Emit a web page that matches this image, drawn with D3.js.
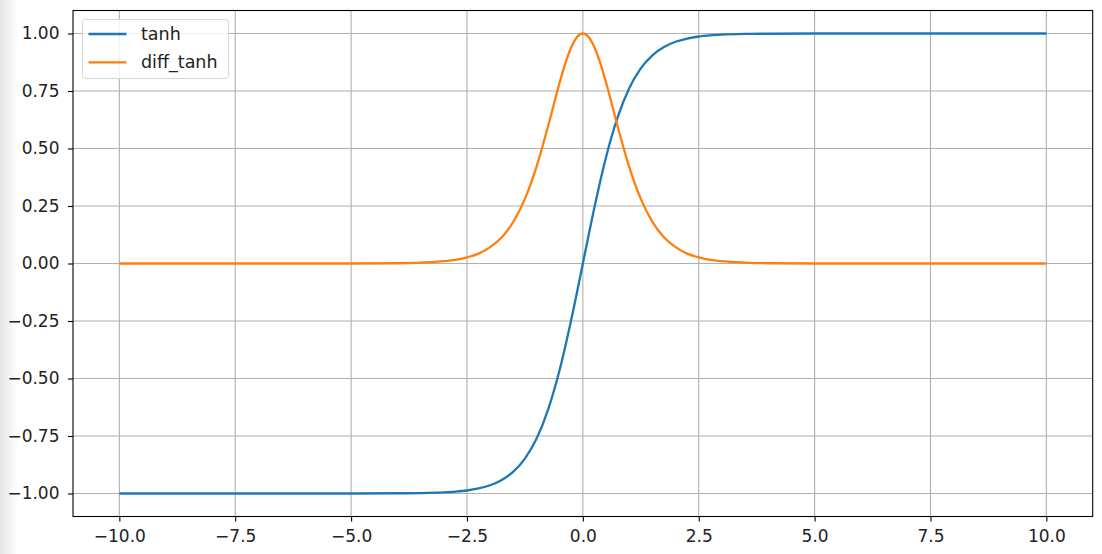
<!DOCTYPE html>
<html lang="en">
<head>
  <meta charset="UTF-8">
  <title>tanh</title>
  <script src="https://d3js.org/d3.v7.min.js"></script>
  <style>
    body { margin: 0; background: #fff; }
    svg { display: block; font-family: "DejaVu Sans", sans-serif; }
  </style>
</head>
<body>
  <svg id="chart"></svg>

  <script>
    // values
    const xs = [-10, -8, -6, -5, -4, -3.5, -3, -2.75, -2.5, -2.25, -2, -1.75, -1.5, -1.25, -1, -0.75, -0.5, -0.375, -0.25, -0.125, 0,
                0.125, 0.25, 0.375, 0.5, 0.75, 1, 1.25, 1.5, 1.75, 2, 2.25, 2.5, 2.75, 3, 3.5, 4, 5, 6, 8, 10];
    const tanhVals = [-1, -1, -1, -1, -0.999, -0.998, -0.995, -0.992, -0.987, -0.978, -0.964, -0.941, -0.905, -0.848, -0.762, -0.635, -0.462, -0.358, -0.245, -0.124, 0,
                      0.124, 0.245, 0.358, 0.462, 0.635, 0.762, 0.848, 0.905, 0.941, 0.964, 0.978, 0.987, 0.992, 0.995, 0.998, 0.999, 1, 1, 1, 1];
    const diffVals = [0, 0, 0, 0, 0.001, 0.004, 0.010, 0.016, 0.027, 0.043, 0.071, 0.114, 0.181, 0.281, 0.420, 0.597, 0.787, 0.872, 0.940, 0.985, 1,
                      0.985, 0.940, 0.872, 0.787, 0.597, 0.420, 0.281, 0.181, 0.114, 0.071, 0.043, 0.027, 0.016, 0.010, 0.004, 0.001, 0, 0, 0, 0];
    const xTicks = [-10, -7.5, -5, -2.5, 0, 2.5, 5, 7.5, 10];
    const yTicks = [-1, -0.75, -0.5, -0.25, 0, 0.25, 0.5, 0.75, 1];
    const seriesNames = ["tanh", "diff_tanh"];
    const colors = ["#1f77b4", "#ff7f0e"];

    const width = 1102, height = 554;
    const plotLeft = 73, plotRight = 1092.7, plotTop = 10.5, plotBottom = 516.5;

    const svg = d3.select("#chart").attr("width", width).attr("height", height);

    // faint shadow at the left edge of the screenshot
    const grad = svg.append("defs").append("linearGradient").attr("id", "shade");
    grad.append("stop").attr("offset", "0").attr("stop-color", "#e4e4e4");
    grad.append("stop").attr("offset", "1").attr("stop-color", "#ffffff");
    svg.append("rect").attr("width", 18).attr("height", height).attr("fill", "url(#shade)");

    const x = d3.scaleLinear().domain([-11, 11]).range([plotLeft, plotRight]);
    const y = d3.scaleLinear().domain([-1.1, 1.1]).range([plotBottom, plotTop]);

    // grid
    svg.append("g").selectAll("line").data(xTicks).join("line")
      .attr("x1", d => x(d)).attr("x2", d => x(d))
      .attr("y1", plotTop).attr("y2", plotBottom)
      .attr("stroke", "#b0b0b0").attr("stroke-width", 1.1);
    svg.append("g").selectAll("line").data(yTicks).join("line")
      .attr("x1", plotLeft).attr("x2", plotRight)
      .attr("y1", d => y(d)).attr("y2", d => y(d))
      .attr("stroke", "#b0b0b0").attr("stroke-width", 1.1);

    // lines
    const series = [tanhVals, diffVals];
    const line = d3.line()
      .x((d, i) => x(xs[i]))
      .y(d => y(d))
      .curve(d3.curveMonotoneX);
    svg.append("g").selectAll("path").data(series).join("path")
      .attr("d", line)
      .attr("fill", "none")
      .attr("stroke", (d, i) => colors[i])
      .attr("stroke-width", 2.3);

    // axes
    const xAxis = svg.append("g")
      .attr("transform", `translate(0,${plotBottom})`)
      .call(d3.axisBottom(x).tickValues(xTicks).tickSize(5).tickPadding(8)
        .tickFormat(d => d3.format(".1f")(d).replace("-", "\u2212")));
    const yAxis = svg.append("g")
      .attr("transform", `translate(${plotLeft},0)`)
      .call(d3.axisLeft(y).tickValues(yTicks).tickSize(5).tickPadding(8.5)
        .tickFormat(d => d3.format(".2f")(d).replace("-", "\u2212")));
    [xAxis, yAxis].forEach(a => {
      a.select(".domain").remove();
      a.selectAll("line").attr("stroke", "#000").attr("stroke-width", 1.1);
      a.selectAll("text").attr("font-size", 17).attr("fill", "#222")
        .attr("font-family", "DejaVu Sans");
    });

    // frame
    svg.append("rect")
      .attr("x", plotLeft).attr("y", plotTop)
      .attr("width", plotRight - plotLeft).attr("height", plotBottom - plotTop)
      .attr("fill", "none").attr("stroke", "#000").attr("stroke-width", 1.1);

    // legend
    const lg = svg.append("g").attr("transform", "translate(82.5,19.5)");
    lg.append("rect")
      .attr("width", 146).attr("height", 59).attr("rx", 3)
      .attr("fill", "rgba(255,255,255,0.8)").attr("stroke", "#d6d6d6");
    const items = lg.selectAll("g.item").data(seriesNames).join("g")
      .attr("transform", (d, i) => `translate(0,${14.5 + i * 28.3})`);
    items.append("line")
      .attr("x1", 6).attr("x2", 44)
      .attr("stroke", (d, i) => colors[i]).attr("stroke-width", 2.3);
    items.append("text")
      .attr("x", 58.5).attr("y", 6)
      .attr("font-size", 17.5).attr("fill", "#222")
      .text(d => d);
  </script>
</body>
</html>
